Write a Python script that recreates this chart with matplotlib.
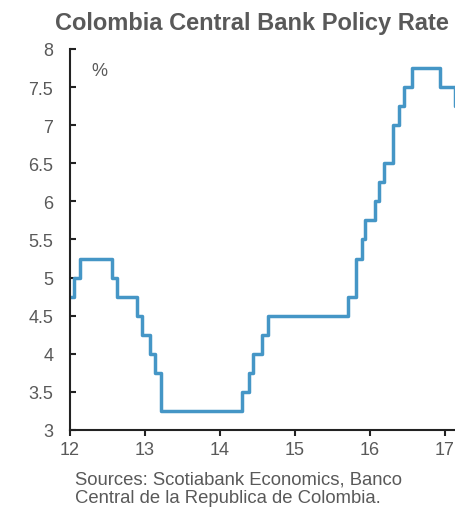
import matplotlib.pyplot as plt

# Fechas (anos decimales, 12 = 2012) y tasa de politica
fechas = [12.0, 12.05, 12.13, 12.56, 12.63, 12.89, 12.96, 13.07, 13.14, 13.21,
          14.29, 14.39, 14.44, 14.56, 14.64, 15.71, 15.81, 15.90, 15.94, 16.07,
          16.12, 16.19, 16.31, 16.39, 16.45, 16.56, 16.93, 17.13, 17.15]
tasas = [4.75, 5.0, 5.25, 5.0, 4.75, 4.5, 4.25, 4.0, 3.75, 3.25,
         3.5, 3.75, 4.0, 4.25, 4.5, 4.75, 5.25, 5.5, 5.75, 6.0,
         6.25, 6.5, 7.0, 7.25, 7.5, 7.75, 7.5, 7.25, 7.25]

x_ticks = [12, 13, 14, 15, 16, 17]
y_ticks = [3, 3.5, 4, 4.5, 5, 5.5, 6, 6.5, 7, 7.5, 8]
y_labels = ["3", "3.5", "4", "4.5", "5", "5.5", "6", "6.5", "7", "7.5", "8"]

gris = "#595959"
plt.rcParams['font.family'] = ['Liberation Sans', 'DejaVu Sans']

fig = plt.figure(figsize=(4.56, 5.10), dpi=100)
ax = fig.add_axes([0.1535, 0.155, 0.8465, 0.747])

ax.step(fechas, tasas, where='post', color="#4596c6", linewidth=2.5)

ax.set_xlim(12, 17.147)
ax.set_ylim(3, 8)
ax.set_xticks(x_ticks)
ax.set_yticks(y_ticks)
ax.set_yticklabels(y_labels)

for lado in ['top', 'right']:
    ax.spines[lado].set_visible(False)
for lado in ['left', 'bottom']:
    ax.spines[lado].set_linewidth(1.5)
    ax.spines[lado].set_color("#222222")

ax.tick_params(axis='y', direction='in', length=4, width=1.5, pad=12,
               labelsize=13, labelcolor=gris, color="#222222")
ax.tick_params(axis='x', direction='out', length=4, width=1.5, pad=4,
               labelsize=13, labelcolor=gris, color="#222222")

ax.text(0.055, 0.965, "%", transform=ax.transAxes, fontsize=13, color=gris,
        ha='left', va='top')

fig.text(0.552, 0.953, "Colombia Central Bank Policy Rate", fontsize=17,
         fontweight='bold', color=gris, ha='center', va='center')

fig.text(0.165, 0.075, "Sources: Scotiabank Economics, Banco\nCentral de la Republica de Colombia.",
         fontsize=13.3, color=gris, ha='left', va='top', linespacing=1.1)

fig.savefig("out.png", dpi=100)
